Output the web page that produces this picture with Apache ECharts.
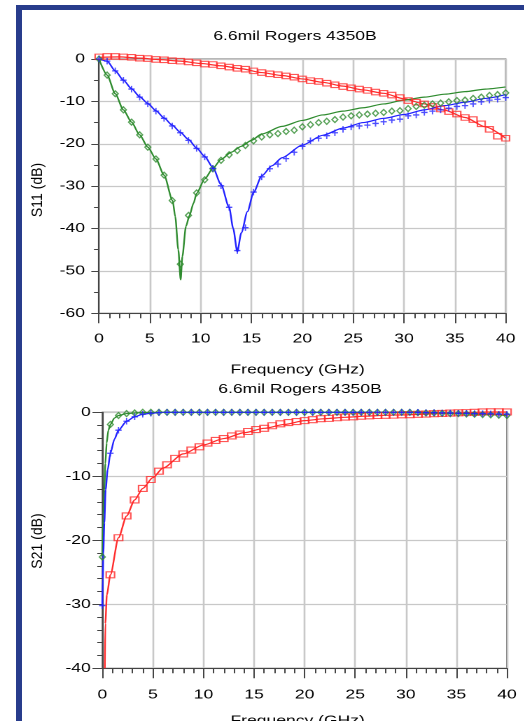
<!DOCTYPE html>
<html><head><meta charset="utf-8">
<script src="https://cdn.jsdelivr.net/npm/echarts@6/dist/echarts.min.js"></script>
<style>
html,body{margin:0;padding:0;background:#fff;overflow:hidden;width:524px;height:721px;}
#chart{position:absolute;left:0;top:0;width:374.29px;height:721px;transform:scaleX(1.4);transform-origin:0 0;}
#frame{position:absolute;left:16px;top:5px;right:0;bottom:0;border-left:6px solid #283c8c;border-top:5px solid #283c8c;pointer-events:none;}
</style></head><body>
<div id="chart"></div>
<div id="frame"></div>
<script>
// ---------- data ----------
const titleText = '6.6mil Rogers 4350B';
const xName = 'Frequency (GHz)';
const s11Name = 'S11 (dB)';
const s21Name = 'S21 (dB)';

const markerFreq = [0,0.8,1.6,2.4,3.2,4,4.8,5.6,6.4,7.2,8,8.8,9.6,10.4,11.2,12,12.8,13.6,14.4,15.2,16,16.8,17.6,18.4,19.2,20,20.8,21.6,22.4,23.2,24,24.8,25.6,26.4,27.2,28,28.8,29.6,30.4,31.2,32,32.8,33.6,34.4,35.2,36,36.8,37.6,38.4,39.2,40];

// S11 measured markers
const s11RedMarkers = [0.5,0.6,0.6,0.5,0.4,0.2,0.1,-0.1,-0.2,-0.4,-0.5,-0.7,-0.9,-1.2,-1.3,-1.6,-1.9,-2.2,-2.4,-2.8,-3.2,-3.5,-3.7,-4.0,-4.3,-4.7,-5.1,-5.3,-5.7,-6.1,-6.5,-6.8,-7.1,-7.4,-7.8,-8.1,-8.5,-9.1,-9.8,-10.2,-10.6,-11.2,-11.8,-12.4,-13.0,-13.8,-14.3,-15.3,-16.6,-18.2,-18.7];
const s11GreenMarkers = [0,-3.8,-8.2,-12.0,-14.9,-17.9,-20.8,-23.6,-27.4,-33.4,-48.4,-36.9,-31.6,-28.5,-25.9,-23.9,-22.6,-21.6,-20.4,-19.3,-18.4,-17.9,-17.6,-17.1,-16.8,-16.0,-15.5,-15.0,-14.7,-14.3,-13.7,-13.4,-13.2,-13.0,-12.8,-12.6,-12.3,-12.2,-11.7,-11.2,-10.9,-10.6,-10.4,-10.1,-9.8,-9.7,-9.3,-9.0,-8.6,-8.4,-8.0];
const s11BlueMarkers = [0,-0.5,-2.8,-5.0,-7.1,-9.0,-10.6,-12.3,-14.0,-15.8,-17.4,-19.2,-21.1,-23.1,-25.8,-29.9,-35.0,-45.2,-39.8,-31.4,-27.8,-25.9,-24.8,-23.5,-22.0,-20.6,-19.3,-18.7,-18.1,-17.4,-16.6,-16.0,-15.8,-15.6,-15.2,-14.8,-14.4,-14.2,-13.4,-13.2,-12.6,-12.3,-12.0,-11.6,-11.2,-11.0,-10.6,-10.1,-9.7,-9.5,-9.1];

// S11 simulated lines
const s11RedLineF = [0,2,4,6,8,10,12,14,16,18,20,22,24,26,28,30,32,34,36,38,40];
const s11RedLineV = [0.4,0.5,0.2,-0.15,-0.5,-1.05,-1.6,-2.3,-3.2,-3.9,-4.7,-5.5,-6.4,-7.3,-8.1,-9.4,-10.6,-12.1,-13.8,-16.0,-18.7];
const s11GreenLineF = [0,0.8,1.6,2.4,3.2,4,4.8,5.6,6.4,7.24,7.5,7.8,8.03,8.2,8.55,8.9,9.3,9.6,10.4,11.2,12,13,14,15,16,18,20,22,24,26,28,30,32,34,36,38,40];
const s11GreenLineV = [0,-3.8,-8.2,-12,-14.9,-17.9,-20.8,-23.6,-27.4,-33.4,-37.2,-45,-52.1,-46.6,-39.5,-36.9,-34,-31.7,-28.3,-25.8,-23.7,-22.0,-20.6,-19.2,-17.7,-15.9,-14.5,-13.2,-12.3,-11.5,-10.6,-9.7,-9.0,-8.3,-7.7,-7.1,-6.6];
const s11BlueLineF = [0,0.8,1.6,2.4,3.2,4,4.8,5.6,6.4,7.2,8,8.8,9.6,10.4,11.2,12,12.8,13.2,13.6,14,14.6,15.2,16,17,18,20,22,24,26,28,30,32,34,36,38,40];
const s11BlueLineV = [0,-0.5,-2.8,-5,-7,-8.9,-10.5,-12.2,-13.9,-15.6,-17.3,-19,-21,-23,-25.6,-29.6,-35,-40,-45.5,-41,-36,-31.5,-27.6,-25.2,-23.3,-20.3,-18,-16.3,-15,-14,-13.1,-12,-11,-10.2,-9.3,-8.4];

// S21 measured markers
const s21RedMarkers = [null,-25.4,-19.6,-16.2,-13.7,-11.9,-10.5,-9.2,-8.2,-7.2,-6.5,-5.9,-5.4,-4.8,-4.4,-4.1,-3.7,-3.4,-3.0,-2.7,-2.5,-2.1,-1.8,-1.6,-1.45,-1.3,-1.15,-1.0,-0.95,-0.85,-0.75,-0.7,-0.6,-0.55,-0.5,-0.47,-0.44,-0.4,-0.37,-0.32,-0.28,-0.22,-0.18,-0.12,-0.08,-0.05,0,0.05,0.08,0.08,0.05];
const s21GreenMarkers = [-22.6,-1.9,-0.5,-0.2,-0.1,0,0,0,0,0,0,0,0,0,0,0,0,0,0,0,0,0,0,0,0,0,0,0,0,0,0,0,0,0,0,0,0,0,0,-0.05,-0.1,-0.1,-0.15,-0.2,-0.2,-0.25,-0.3,-0.35,-0.4,-0.45,-0.5];
const s21BlueMarkers = [-30.2,-6.4,-2.8,-1.4,-0.7,-0.3,-0.15,-0.05,0,0,0,0,0,0,0,0,0,0,0,0,0,0,0,0,0,0,0,0,0,0,0,0,0,0,0,0,0,0,0,0,-0.05,-0.05,-0.1,-0.1,-0.15,-0.15,-0.2,-0.2,-0.25,-0.3,-0.3];

// S21 simulated lines
const s21RedLineF = [0.25,0.3,0.45,0.8,1.6,2.4,3.2,4,5,6,8,10,12,14,16,18,20,22,24,26,28,30,32,34,36,38,40];
const s21RedLineV = [-40,-33,-28.5,-25.4,-19.6,-16.2,-13.7,-11.9,-10.2,-8.7,-6.5,-5.1,-4.1,-3.2,-2.5,-1.9,-1.3,-1.0,-0.78,-0.6,-0.47,-0.4,-0.28,-0.15,-0.05,0.05,0.05];
const s21GreenLineF = [0,0.1,0.2,0.3,0.43,0.6,0.8,1.2,1.6,2.4,3.2,4,6,10,20,30,32,34,36,38,40];
const s21GreenLineV = [-22.6,-16,-12.1,-8,-4.8,-2.8,-1.9,-0.9,-0.5,-0.2,-0.1,-0.05,0,0,0,0,-0.05,-0.15,-0.25,-0.35,-0.5];
const s21BlueLineF = [0,0.05,0.1,0.2,0.33,0.53,0.8,1.2,1.6,2.4,3.2,4,4.8,6,10,20,30,32,34,36,38,40];
const s21BlueLineV = [-30.2,-26,-22,-17.3,-12.1,-9,-6.4,-4.2,-2.8,-1.4,-0.7,-0.3,-0.15,0,0,0,0,-0.05,-0.1,-0.15,-0.25,-0.3];

// ---------- chart ----------
const FONT = '"Liberation Sans", Arial, sans-serif';
const RED = '#ff2b2b', GREEN = '#2e8b2e', BLUE = '#2020ff';
const AX = '#444';
const PLUS = 'path://M0,5L10,5M5,0L5,10';

function pairs(f, v){ const o=[]; for(let i=0;i<f.length;i++){ if(v[i]!==null && v[i]!==undefined) o.push([f[i], v[i]]); } return o; }

function xAxis(gi, margin){
  return {type:'value', gridIndex:gi, min:0, max:40, interval:5,
    axisLine:{show:true, onZero:false, lineStyle:{color:AX, width:1}},
    axisTick:{show:true, length:10, lineStyle:{color:AX, width:1}},
    minorTick:{show:true, splitNumber:5, length:5, lineStyle:{color:AX, width:1}},
    splitLine:{show:true, lineStyle:{color:'#c8c8c8', width:1.3}},
    axisLabel:{color:'#000', fontSize:12.5, fontFamily:FONT, margin:margin}};
}
function yAxis(gi, min, minorN, tickLen, margin){
  return {type:'value', gridIndex:gi, min:min, max:0, interval:10,
    axisLine:{show:true, onZero:false, lineStyle:{color:AX, width:1}},
    axisTick:{show:true, length:tickLen, lineStyle:{color:AX, width:1}},
    minorTick:{show:true, splitNumber:minorN, length:3.6, lineStyle:{color:AX, width:1}},
    splitLine:{show:true, lineStyle:{color:'#c8c8c8', width:1.3}},
    axisLabel:{color:'#000', fontSize:12.5, fontFamily:FONT, margin:margin}};
}
function line(gi, f, v, color){
  return {type:'line', xAxisIndex:gi, yAxisIndex:gi, data:pairs(f,v), symbol:'none', showSymbol:false, clip:false,
    smooth:0.25, smoothMonotone:'x', lineStyle:{color:color, width:1.2}, z:2, silent:true};
}
function marks(gi, v, color, symbol, size){
  return {type:'scatter', xAxisIndex:gi, yAxisIndex:gi, data:pairs(markerFreq, v), symbol:symbol, symbolSize:size, clip:false,
    itemStyle:{color:'rgba(0,0,0,0)', borderColor:color, borderWidth:1.1}, z:3, silent:true};
}
function txt(x, y, text, size, rot, sx, sy){
  return {type:'text', x:x, y:y, rotation:rot||0, scaleX:sx||1, scaleY:sy||1, silent:true,
    style:{text:text, fontSize:size, fontFamily:FONT, fill:'#000', align:'center', verticalAlign:'middle'}};
}

const chart = echarts.init(document.getElementById('chart'), null, {devicePixelRatio:2});
chart.setOption({
  animation:false,
  backgroundColor:'transparent',
  grid:[
    {left:70.71, top:59, width:290.5, height:254.3, show:true, borderColor:'#555', borderWidth:1, backgroundColor:'transparent'},
    {left:73.07, top:412.3, width:289.0, height:256, show:true, borderColor:'#555', borderWidth:1, backgroundColor:'transparent'}
  ],
  xAxis:[xAxis(0,19), xAxis(1,20)],
  yAxis:[yAxis(0,-60,2,5.5,10), yAxis(1,-40,5,7,8.3)],
  series:[
    line(0, s11RedLineF, s11RedLineV, RED),
    line(0, s11GreenLineF, s11GreenLineV, GREEN),
    line(0, s11BlueLineF, s11BlueLineV, BLUE),
    marks(0, s11RedMarkers, RED, 'rect', 5.5),
    marks(0, s11GreenMarkers, GREEN, 'diamond', [4.2,6]),
    marks(0, s11BlueMarkers, BLUE, PLUS, [4.5,6.5]),
    line(1, s21RedLineF, s21RedLineV, RED),
    line(1, s21GreenLineF, s21GreenLineV, GREEN),
    line(1, s21BlueLineF, s21BlueLineV, BLUE),
    marks(1, s21RedMarkers, RED, 'rect', 6),
    marks(1, s21GreenMarkers, GREEN, 'diamond', [4.2,6]),
    marks(1, s21BlueMarkers, BLUE, PLUS, [4.5,6.5])
  ],
  graphic:[
    txt(210.7, 36.5, titleText, 12.5),
    txt(212.6, 370, xName, 12.5),
    txt(214.3, 389.5, titleText, 12.5),
    txt(212.6, 721, xName, 12.5),
    txt(27.1, 190, s11Name, 13, Math.PI/2, 1.08, 0.85),
    txt(27.1, 541, s21Name, 13, Math.PI/2, 1.08, 0.85)
  ]
});
</script>
</body></html>
